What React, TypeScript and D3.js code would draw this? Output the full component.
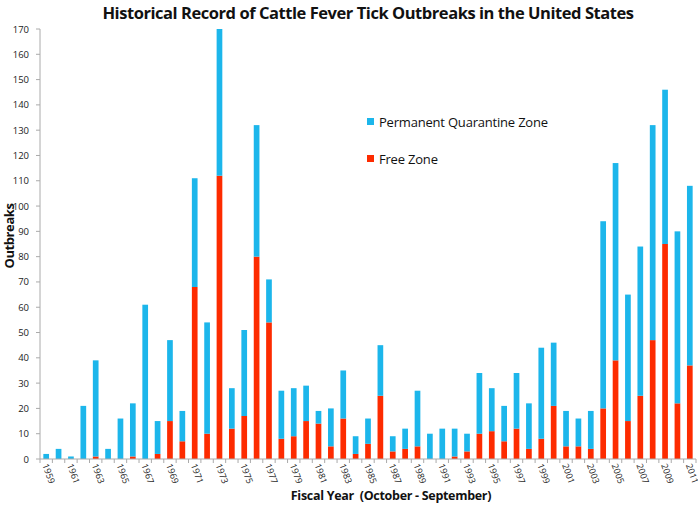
import React from "react";
import * as d3 from "d3";

const years: number[] = d3.range(1959, 2012);
const totals: number[] = [
  2, 4, 1, 21, 39, 4, 16, 22, 61, 15, 47, 19, 111, 54, 170, 28, 51, 132, 71, 27,
  28, 29, 19, 20, 35, 9, 16, 45, 9, 12, 27, 10, 12, 12, 10, 34, 28, 21, 34, 22,
  44, 46, 19, 16, 19, 94, 117, 65, 84, 132, 146, 90, 108,
];
const freeZone: number[] = [
  0, 0, 0, 0, 1, 0, 0, 1, 0, 2, 15, 7, 68, 10, 112, 12, 17, 80, 54, 8,
  9, 15, 14, 5, 16, 2, 6, 25, 3, 4, 5, 0, 0, 1, 3, 10, 11, 7, 12, 4,
  8, 21, 5, 5, 4, 20, 39, 15, 25, 47, 85, 22, 37,
];
const quarantineZone: number[] = totals.map((t, i) => t - freeZone[i]);
const yTicks: number[] = d3.range(0, 171, 10);
const seriesNames = ["Permanent Quarantine Zone", "Free Zone"];

const W = 698;
const H = 507;
const BLUE = "#1CB6EB";
const RED = "#FD2B00";
const FONT = "'Open Sans', 'Liberation Sans', sans-serif";

export default function App() {
  const x = d3
    .scaleBand<number>()
    .domain(years)
    .range([40, 696])
    .paddingInner(0.54)
    .paddingOuter(0.27);
  const y = d3.scaleLinear().domain([0, 170]).range([459, 29]);
  const step = x.step();

  return (
    <svg
      width={W}
      height={H}
      style={{ position: "absolute", left: 0, top: 0, background: "#fff" }}
    >
      <text
        x={368}
        y={19}
        textAnchor="middle"
        fontFamily={FONT}
        fontWeight="bold"
        fontSize={16.5}
        fill="#111"
        letterSpacing={-0.45}
      >
        Historical Record of Cattle Fever Tick Outbreaks in the United States
      </text>

      {/* y axis */}
      <line x1={40} x2={40} y1={y(170)} y2={y(0)} stroke="#aaa" />
      {yTicks.map((t) => (
        <g key={t}>
          <line x1={36} x2={40} y1={y(t)} y2={y(t)} stroke="#aaa" />
          <text
            x={29}
            y={y(t) + 3.5}
            textAnchor="end"
            fontFamily={FONT}
            fontSize={9.5}
            fill="#222"
          >
            {t}
          </text>
        </g>
      ))}
      <text
        transform={`translate(14,236) rotate(-90)`}
        textAnchor="middle"
        fontFamily={FONT}
        fontWeight="bold"
        fontSize={13}
        fill="#111"
        letterSpacing={-0.4}
      >
        Outbreaks
      </text>

      {/* bars */}
      {years.map((yr, i) => {
        const bx = x(yr) as number;
        const bw = x.bandwidth();
        return (
          <g key={yr}>
            {freeZone[i] > 0 && (
              <rect
                x={bx}
                width={bw}
                y={y(freeZone[i])}
                height={y(0) - y(freeZone[i])}
                fill={RED}
              />
            )}
            {quarantineZone[i] > 0 && (
              <rect
                x={bx}
                width={bw}
                y={y(totals[i])}
                height={y(freeZone[i]) - y(totals[i])}
                fill={BLUE}
              />
            )}
          </g>
        );
      })}

      {/* x axis */}
      <line x1={40} x2={696} y1={459} y2={459} stroke="#aaa" />
      {years.map((yr) => {
        const bx = (x(yr) as number) - (step * 0.54) / 2;
        return (
          <line key={"t" + yr} x1={bx} x2={bx} y1={459} y2={463} stroke="#aaa" />
        );
      })}
      <line x1={696} x2={696} y1={459} y2={463} stroke="#aaa" />
      {years
        .filter((yr) => (yr - 1959) % 2 === 0)
        .map((yr) => {
          const cx = (x(yr) as number) + x.bandwidth() / 2;
          return (
            <text
              key={"l" + yr}
              transform={`translate(${cx - 4},${465}) rotate(70)`}
              textAnchor="start"
              fontFamily={FONT}
              fontSize={9}
              fill="#222"
            >
              {yr}
            </text>
          );
        })}
      <text
        x={391}
        y={500}
        textAnchor="middle"
        fontFamily={FONT}
        fontWeight="bold"
        fontSize={12.5}
        fill="#111"
        letterSpacing={-0.3}
        style={{ whiteSpace: "pre" }}
      >
        {"Fiscal Year  (October - September)"}
      </text>

      {/* legend */}
      {seriesNames.map((name, i) => (
        <g key={name} transform={`translate(367,${118 + i * 37})`}>
          <rect x={0} y={0} width={7} height={7} fill={i === 0 ? BLUE : RED} />
          <text
            x={12}
            y={9}
            fontFamily={FONT}
            fontSize={13}
            fill="#111"
            letterSpacing={-0.2}
          >
            {name}
          </text>
        </g>
      ))}
    </svg>
  );
}
